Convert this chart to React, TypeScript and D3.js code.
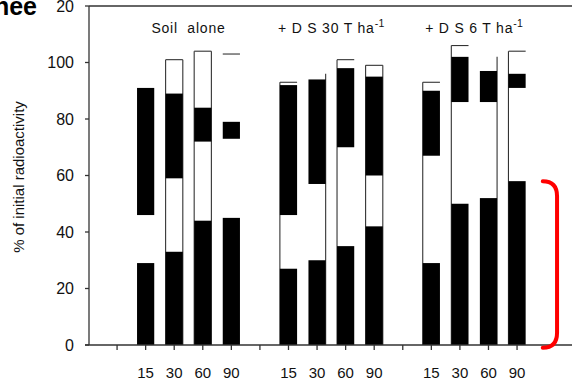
import { useEffect, useRef } from "react";
import * as d3 from "d3";

const groups = ["Soil  alone", "+ D S 30 T ha", "+ D S 6 T ha"];
const groupUnits = ["", "-1", "-1"];
const days = ["15", "30", "60", "90"];

// stacked segment heights (% of initial radioactivity), bottom to top, one entry per bar
const lowerBlack = [29, 33, 44, 45, 27, 30, 35, 42, 29, 50, 52, 58];
const lowerWhite = [17, 26, 28, 28, 19, 27, 35, 18, 38, 36, 34, 33];
const upperBlack = [45, 30, 12, 6, 46, 37, 28, 35, 23, 16, 11, 5];
const upperWhite = [0, 12, 20, 24, 1, 2, 3, 4, 3, 4, 5, 8];
// edges of the white parts that show an outline in the original (l, t, r)
const outlineEdges = ["", "ltr", "ltr", "t", "lt", "r", "lt", "ltr", "lt", "lt", "r", "lt"];

const yTicks = [0, 20, 40, 60, 80, 100, 120];
const yTickLabels = ["0", "20", "40", "60", "80", "100", "20"];
const bracketRange = [-1, 58];

export default function App() {
  const ref = useRef<SVGSVGElement>(null);

  useEffect(() => {
    const svg = d3.select(ref.current);
    svg.selectAll("*").remove();

    const width = 572;
    const height = 383;
    svg.attr("width", width).attr("height", height);

    const font = "'Liberation Sans', Arial, sans-serif";
    const ink = "#111";

    // slot 0 is the y axis, slots 1..15 carry ticks, groups of 5 (blank + 4 days)
    const x = d3.scaleLinear().domain([0, 17]).range([88.5, 88.5 + 28.57 * 17]);
    const y = d3.scaleLinear().domain([0, 120]).range([345, 6]);

    const slots: { pos: number; label: string }[] = [];
    groups.forEach((g, gi) => {
      slots.push({ pos: 1 + gi * 5, label: "" });
      days.forEach((d, di) => slots.push({ pos: 2 + gi * 5 + di, label: d }));
    });

    const bars = lowerBlack.map((_, i) => ({
      pos: 2 + Math.floor(i / 4) * 5 + (i % 4),
      b1: lowerBlack[i],
      w1: lowerWhite[i],
      b2: upperBlack[i],
      w2: upperWhite[i],
      edges: outlineEdges[i],
    }));

    const stack = d3.stack<any>().keys(["b1", "w1", "b2", "w2"]);
    const series = stack(bars);
    const half = 8.6;

    // outlines of white segments
    const outline = svg.append("g").attr("stroke", "#333").attr("stroke-width", 1.1).attr("fill", "none");
    bars.forEach((b, i) => {
      const top = series[3][i][1];
      const x0 = x(b.pos) - half;
      const x1 = x(b.pos) + half;
      if (b.edges.includes("l")) outline.append("line").attr("x1", x0).attr("x2", x0).attr("y1", y(0)).attr("y2", y(top));
      if (b.edges.includes("r")) outline.append("line").attr("x1", x1).attr("x2", x1).attr("y1", y(0)).attr("y2", y(top));
      if (b.edges.includes("t")) outline.append("line").attr("x1", x0).attr("x2", x1).attr("y1", y(top)).attr("y2", y(top));
    });

    // black segments
    [series[0], series[2]].forEach(s => {
      svg.append("g")
        .selectAll("rect")
        .data(s)
        .join("rect")
        .attr("x", (_, i) => x(bars[i].pos) - half)
        .attr("width", half * 2)
        .attr("y", d => y(d[1]))
        .attr("height", d => y(d[0]) - y(d[1]))
        .attr("fill", "#000");
    });

    // axes
    const axis = svg.append("g").attr("stroke", "#333").attr("stroke-width", 1.3);
    axis.append("line").attr("x1", 89).attr("x2", 89).attr("y1", y(0)).attr("y2", y(120));
    axis.append("line").attr("x1", 89).attr("x2", width).attr("y1", y(120)).attr("y2", y(120));
    axis.append("line").attr("x1", 85).attr("x2", width).attr("y1", y(0)).attr("y2", y(0));
    axis.selectAll("line.yt")
      .data(yTicks)
      .join("line")
      .attr("class", "yt")
      .attr("x1", 85).attr("x2", 89)
      .attr("y1", d => y(d)).attr("y2", d => y(d));
    axis.selectAll("line.xt")
      .data(slots)
      .join("line")
      .attr("class", "xt")
      .attr("x1", d => x(d.pos)).attr("x2", d => x(d.pos))
      .attr("y1", y(0)).attr("y2", y(0) + 5);

    svg.append("g")
      .selectAll("text")
      .data(yTicks)
      .join("text")
      .attr("x", 74)
      .attr("y", d => y(d))
      .attr("dy", "0.36em")
      .attr("text-anchor", "end")
      .attr("font-family", font)
      .attr("font-size", 16)
      .attr("fill", ink)
      .text((_, i) => yTickLabels[i]);

    svg.append("g")
      .selectAll("text")
      .data(slots.filter(s => s.label))
      .join("text")
      .attr("x", d => x(d.pos))
      .attr("y", 378)
      .attr("text-anchor", "middle")
      .attr("font-family", font)
      .attr("font-size", 15)
      .attr("fill", ink)
      .text(d => d.label);

    // group titles
    groups.forEach((g, gi) => {
      const t = svg.append("text")
        .attr("x", x(3.5 + gi * 5))
        .attr("y", 33)
        .attr("text-anchor", "middle")
        .attr("font-family", font)
        .attr("font-size", 14)
        .attr("letter-spacing", 0.8)
        .attr("fill", ink)
        .style("white-space", "pre");
      t.append("tspan").text(g);
      if (groupUnits[gi]) {
        t.append("tspan").attr("font-size", 10.5).attr("dy", -6).attr("letter-spacing", 0.3).text(groupUnits[gi]);
      }
    });

    // y axis title
    svg.append("text")
      .attr("transform", `translate(24,${177}) rotate(-90)`)
      .attr("text-anchor", "middle")
      .attr("font-family", font)
      .attr("font-size", 15)
      .attr("fill", ink)
      .text("% of initial radioactivity");

    // cut-off heading at the top left
    svg.append("text")
      .attr("x", 37)
      .attr("y", 15)
      .attr("text-anchor", "end")
      .attr("font-family", font)
      .attr("font-weight", "bold")
      .attr("font-size", 25)
      .attr("fill", "#000")
      .text("nee");

    // red bracket
    const xa = x(15.9);
    const xb = x(16.4);
    const yT = y(bracketRange[1]);
    const yB = y(bracketRange[0]);
    const r = 15;
    svg.append("path")
      .attr("d", `M${xa},${yT} Q${xb},${yT} ${xb},${yT + r} L${xb},${yB - r} Q${xb},${yB} ${xa},${yB}`)
      .attr("fill", "none")
      .attr("stroke", "#ff0000")
      .attr("stroke-width", 4)
      .attr("stroke-linecap", "round");
  }, []);

  return (
    <div style={{ position: "absolute", left: 0, top: 0 }}>
      <svg ref={ref} style={{ display: "block" }}></svg>
    </div>
  );
}
